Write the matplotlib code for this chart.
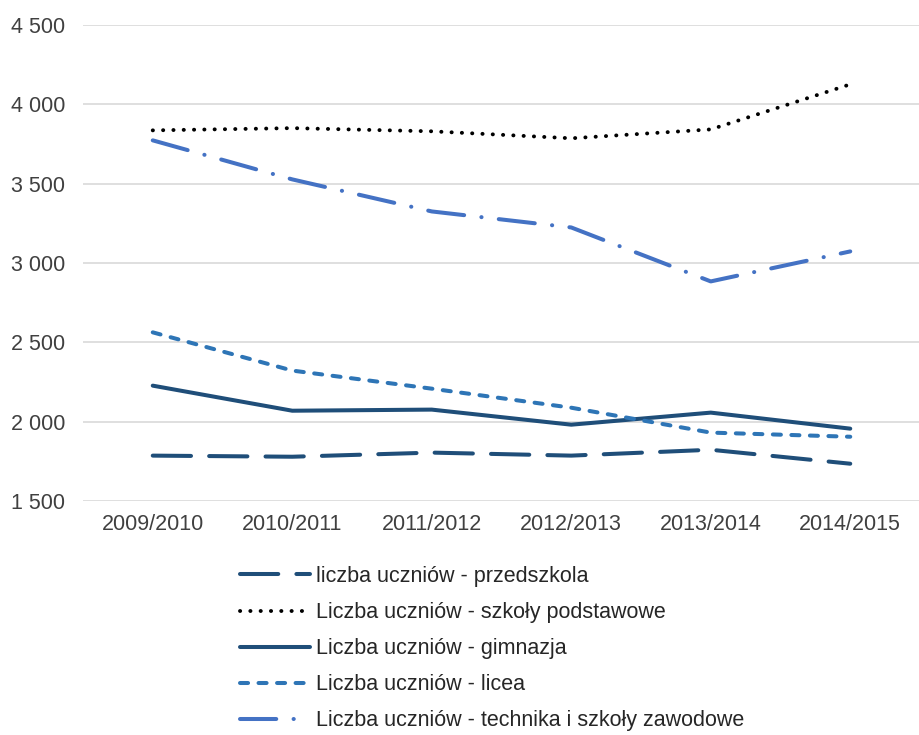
import matplotlib
matplotlib.use("Agg")
import matplotlib.pyplot as plt
from matplotlib.ticker import FuncFormatter, MultipleLocator

# -----------------------------
# dane
# -----------------------------
lata = ["2009/2010", "2010/2011", "2011/2012", "2012/2013", "2013/2014", "2014/2015"]

przedszkola = [1786, 1779, 1805, 1786, 1823, 1735]
podstawowe = [3836, 3850, 3830, 3786, 3842, 4126]
gimnazja = [2227, 2069, 2076, 1981, 2057, 1956]
licea = [2563, 2322, 2208, 2088, 1931, 1905]
technika = [3773, 3527, 3325, 3224, 2884, 3073]

etykiety = [
    "liczba uczniów - przedszkola",
    "Liczba uczniów - szkoły podstawowe",
    "Liczba uczniów - gimnazja",
    "Liczba uczniów - licea",
    "Liczba uczniów - technika i szkoły zawodowe",
]

plt.rcParams["font.family"] = ["Liberation Sans", "DejaVu Sans"]

fig = plt.figure(figsize=(9.2, 7.35), dpi=100)
ax = fig.add_axes([83 / 920, 1 - 501 / 735, 1 - 83 / 920, (501 - 25) / 735])

x = range(len(lata))
ax.plot(x, przedszkola, color="#1F4E79", lw=2.9, ls=(0, (9.5, 4.5)),
        solid_capstyle="round", dash_capstyle="round", label=etykiety[0])
ax.plot(x, podstawowe, color="black", lw=2.8, ls=(0, (0.05, 2.6)),
        dash_capstyle="round", label=etykiety[1])
ax.plot(x, gimnazja, color="#1F4E79", lw=2.9, ls="-",
        solid_capstyle="round", label=etykiety[2])
ax.plot(x, licea, color="#2E75B6", lw=2.9, ls=(0, (2.0, 2.6)),
        dash_capstyle="round", label=etykiety[3])
ax.plot(x, technika, color="#4472C4", lw=2.9, ls=(0, (9.0, 4.3, 0.05, 4.3)),
        dash_capstyle="round", label=etykiety[4])

ax.set_xlim(-0.5, len(lata) - 0.5)
ax.set_ylim(1500, 4500)
ax.yaxis.set_major_locator(MultipleLocator(500))
ax.yaxis.set_major_formatter(FuncFormatter(lambda v, p: f"{int(v):,}".replace(",", " ")))
ax.set_xticks(list(x))
ax.set_xticklabels(lata)

ax.grid(axis="y", color="#D9D9D9", lw=1.2)
ax.set_axisbelow(True)
for s in ax.spines.values():
    s.set_visible(False)
ax.tick_params(length=0, labelsize=15.5, colors="#404040", pad=9)
ax.tick_params(axis="y", pad=13)

fig.legend(loc="upper left", bbox_to_anchor=(240 / 920, 1 - 566 / 735),
           frameon=False, fontsize=15.5, handlelength=3.25, handletextpad=0.3,
           labelspacing=0.7, borderaxespad=0, borderpad=0,
           labelcolor="#262626")

fig.savefig("out.png", dpi=100)
